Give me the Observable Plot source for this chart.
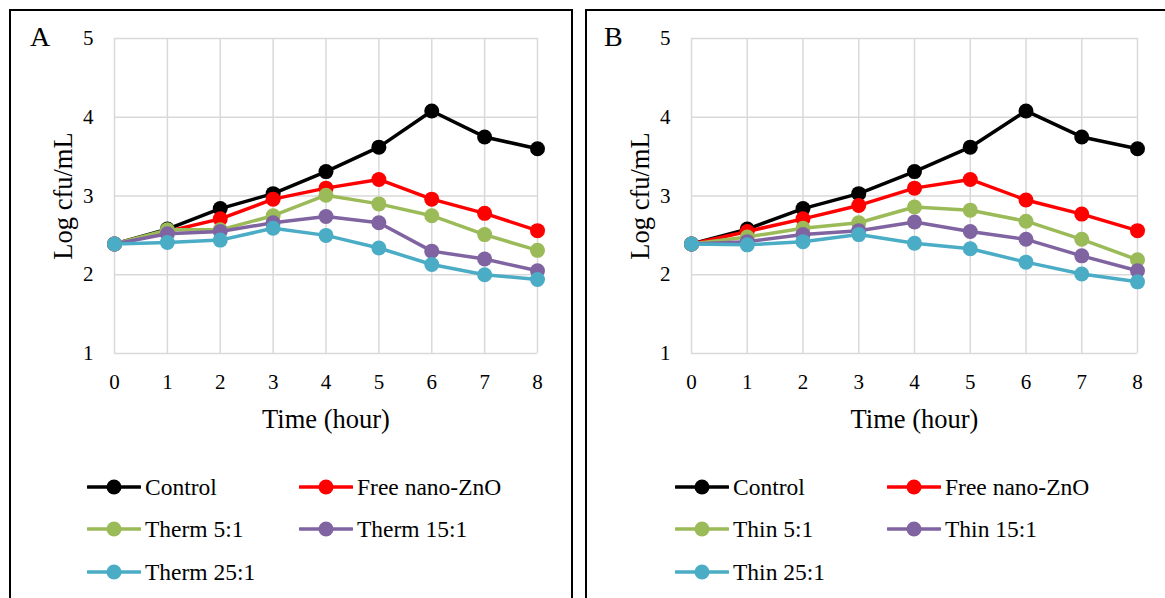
<!DOCTYPE html>
<html><head><meta charset="utf-8">
<script src="https://cdn.jsdelivr.net/npm/d3@7"></script>
<script src="https://cdn.jsdelivr.net/npm/@observablehq/plot@0.6"></script>
<style>
html,body{margin:0;padding:0;background:#fff;overflow:hidden;width:1165px;height:598px;}
#root{position:relative;width:1165px;height:598px;overflow:hidden;font-family:'Liberation Serif',serif;color:#000;}
#root svg, #root svg text{font-family:'Liberation Serif',serif !important;}
.frame{position:absolute;border:2px solid #000;box-sizing:border-box;}
.plot{position:absolute;}
.tag{position:absolute;font-size:28px;line-height:1;font-family:'Liberation Serif',serif;}
.leg{position:absolute;display:flex;align-items:center;font-size:23.5px;height:30px;line-height:30px;white-space:nowrap;font-family:'Liberation Serif',serif;}
.leg svg{margin-right:4px;}
</style></head><body><div id="root"></div>
<script>
// ---- data ----
const hours = [0, 1, 2, 3, 4, 5, 6, 7, 8];
const yTicks = [1, 2, 3, 4, 5];
const xLabel = "Time (hour)";
const yLabel = "Log cfu/mL";
const seriesColors = ["#000000", "#FF0000", "#9BBB59", "#8064A2", "#4BACC6"];

const namesA = ["Control", "Free nano-ZnO", "Therm 5:1", "Therm 15:1", "Therm 25:1"];
const controlA = [2.39, 2.58, 2.84, 3.03, 3.31, 3.62, 4.08, 3.75, 3.60];
const freeZnOA = [2.39, 2.55, 2.71, 2.96, 3.10, 3.21, 2.96, 2.78, 2.56];
const therm5 = [2.39, 2.57, 2.57, 2.75, 3.01, 2.90, 2.75, 2.51, 2.31];
const therm15 = [2.39, 2.52, 2.55, 2.66, 2.74, 2.66, 2.30, 2.20, 2.05];
const therm25 = [2.39, 2.41, 2.44, 2.59, 2.50, 2.34, 2.13, 2.00, 1.94];

const namesB = ["Control", "Free nano-ZnO", "Thin 5:1", "Thin 15:1", "Thin 25:1"];
const controlB = [2.39, 2.58, 2.84, 3.03, 3.31, 3.62, 4.08, 3.75, 3.60];
const freeZnOB = [2.39, 2.55, 2.71, 2.88, 3.10, 3.21, 2.95, 2.77, 2.56];
const thin5 = [2.39, 2.48, 2.59, 2.66, 2.86, 2.82, 2.68, 2.45, 2.19];
const thin15 = [2.39, 2.42, 2.51, 2.56, 2.67, 2.55, 2.45, 2.24, 2.05];
const thin25 = [2.39, 2.38, 2.42, 2.51, 2.40, 2.33, 2.16, 2.01, 1.91];

const panels = [
  {tag: "A", names: namesA, series: [controlA, freeZnOA, therm5, therm15, therm25],
   frame: {left: 9, top: 9, width: 564, height: 620},
   svg: {left: 10, top: 10, width: 560, height: 420, ml: 104, mr: 33, mt: 28, mb: 77},
   tagPos: {left: 30, top: 23},
   legend: {cols: [87, 299], rows: [487, 529, 572]}},
  {tag: "B", names: namesB, series: [controlB, freeZnOB, thin5, thin15, thin25],
   frame: {left: 585, top: 9, width: 600, height: 620},
   svg: {left: 590, top: 10, width: 575, height: 420, ml: 101, mr: 28, mt: 28, mb: 77},
   tagPos: {left: 604, top: 23},
   legend: {cols: [675, 887], rows: [487, 529, 572]}}
];

const root = document.getElementById("root");
const font = "'Liberation Serif', serif";

for (const p of panels) {
  const fr = document.createElement("div");
  fr.className = "frame";
  Object.assign(fr.style, {left: p.frame.left + "px", top: p.frame.top + "px", width: p.frame.width + "px", height: p.frame.height + "px"});
  root.appendChild(fr);

  const marks = [
    Plot.gridX(hours, {stroke: "#d9d9d9", strokeOpacity: 1, strokeWidth: 1.5}),
    Plot.gridY(yTicks, {stroke: "#d9d9d9", strokeOpacity: 1, strokeWidth: 1.5}),
    Plot.axisX(hours, {tickSize: 0, tickPadding: 21, fontSize: 21, label: null, tickFormat: d => String(d)}),
    Plot.axisY(yTicks, {tickSize: 0, tickPadding: 21, fontSize: 21, label: null, tickFormat: d => String(d)}),
    Plot.text([xLabel], {text: d => d, frameAnchor: "bottom", dy: 66, fontSize: 26.5, textAnchor: "middle", lineAnchor: "middle"}),
    Plot.text([yLabel], {text: d => d, frameAnchor: "left", dx: -51, rotate: -90, fontSize: 26.5, textAnchor: "middle", lineAnchor: "middle"})
  ];
  p.series.forEach((vals, i) => {
    const rows = hours.map((h, j) => ({h, v: vals[j]}));
    marks.push(Plot.line(rows, {x: "h", y: "v", stroke: seriesColors[i], strokeWidth: 3.5}));
    marks.push(Plot.dot(rows, {x: "h", y: "v", r: 7.5, fill: seriesColors[i], stroke: "none"}));
  });

  const chart = Plot.plot({
    width: p.svg.width, height: p.svg.height,
    marginLeft: p.svg.ml, marginRight: p.svg.mr, marginTop: p.svg.mt, marginBottom: p.svg.mb,
    x: {domain: [0, 8]},
    y: {domain: [1, 5]},
    style: {fontFamily: font, color: "#000", background: "transparent", overflow: "visible"},
    marks
  });
  const wrap = document.createElement("div");
  wrap.className = "plot";
  Object.assign(wrap.style, {left: p.svg.left + "px", top: p.svg.top + "px"});
  wrap.appendChild(chart);
  root.appendChild(wrap);

  const tag = document.createElement("div");
  tag.className = "tag";
  tag.textContent = p.tag;
  Object.assign(tag.style, {left: p.tagPos.left + "px", top: p.tagPos.top + "px"});
  root.appendChild(tag);

  p.names.forEach((name, i) => {
    const col = i % 2, row = Math.floor(i / 2);
    const item = document.createElement("div");
    item.className = "leg";
    Object.assign(item.style, {left: p.legend.cols[col] + "px", top: (p.legend.rows[row] - 15) + "px"});
    const ns = "http://www.w3.org/2000/svg";
    const s = document.createElementNS(ns, "svg");
    s.setAttribute("width", 54); s.setAttribute("height", 16);
    const ln = document.createElementNS(ns, "line");
    ln.setAttribute("x1", 1); ln.setAttribute("x2", 53); ln.setAttribute("y1", 8); ln.setAttribute("y2", 8);
    ln.setAttribute("stroke", seriesColors[i]); ln.setAttribute("stroke-width", 3.5); ln.setAttribute("stroke-linecap", "round");
    const c = document.createElementNS(ns, "circle");
    c.setAttribute("cx", 27); c.setAttribute("cy", 8); c.setAttribute("r", 7.5); c.setAttribute("fill", seriesColors[i]);
    s.appendChild(ln); s.appendChild(c);
    const t = document.createElement("span");
    t.textContent = name;
    item.appendChild(s); item.appendChild(t);
    root.appendChild(item);
  });
}
</script>
</body></html>
